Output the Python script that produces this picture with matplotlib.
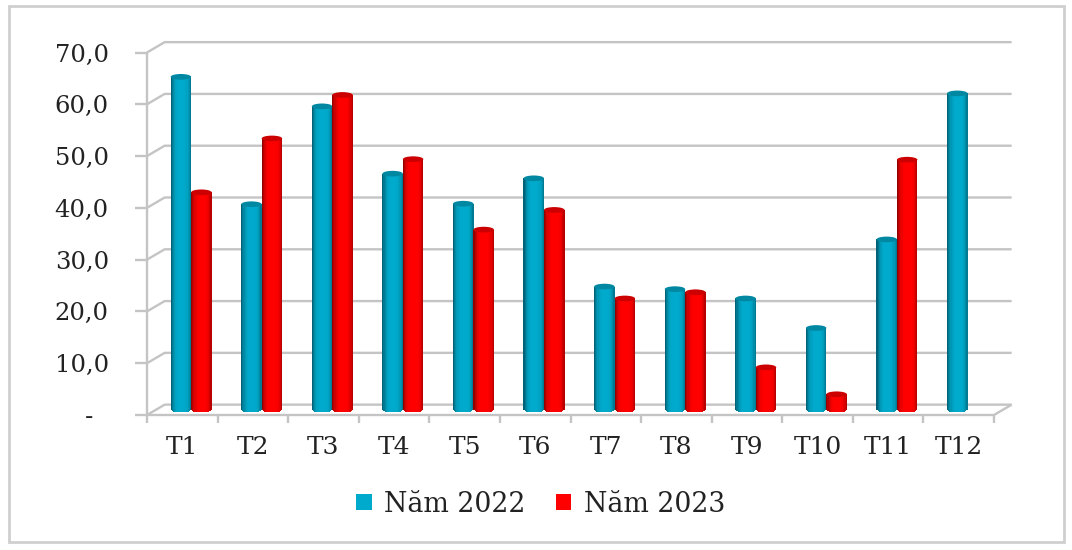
import numpy as np
import matplotlib
matplotlib.use("Agg")
import matplotlib.pyplot as plt
from matplotlib.patches import Ellipse, Patch, Rectangle

# Data
months = ["T1", "T2", "T3", "T4", "T5", "T6", "T7", "T8", "T9", "T10", "T11", "T12"]
nam_2022 = [64.6, 40.0, 58.9, 45.9, 40.1, 45.0, 24.1, 23.6, 21.8, 16.1, 33.2, 61.4]
nam_2023 = [42.3, 52.7, 61.1, 48.7, 35.1, 38.9, 21.8, 23.0, 8.5, 3.3, 48.6, np.nan]
y_ticks = [0, 10, 20, 30, 40, 50, 60, 70]
y_labels = ["-  ", "10,0", "20,0", "30,0", "40,0", "50,0", "60,0", "70,0"]

W, H = 1072, 550
font = "DejaVu Serif"
grid_color = "#c4c4c4"
blue = "#00aacc"
red = "#ff0000"

# fake 3D depth of the chart box, in data units
depth_x = 0.25
depth_y = 2.0
bar_w = 0.29
pair_shift = 0.125
floor_y = 1.05
top_shift = 0.7
cap_h = 0.55


def shade(hex_color, amount):
    rgb = np.array(matplotlib.colors.to_rgb(hex_color))
    return tuple(rgb * amount)


def cylinder(ax, x, value, color, z):
    # vertical strips give the round shading, the lower end follows the ellipse
    n = 18
    edges = np.linspace(x, x + bar_w, n + 1)
    top = value + top_shift
    for i in range(n):
        mid = (edges[i] + edges[i + 1]) / 2
        t = (mid - x) / bar_w * 2 - 1
        if t < 0:
            amount = 1 - 0.5 * abs(t) ** 3
        else:
            amount = 1 - 0.35 * t ** 4
        low = floor_y - cap_h * np.sqrt(1 - t ** 2)
        ax.bar(mid, top - low, width=edges[1] - edges[0] + 0.002, bottom=low,
               color=shade(color, amount), linewidth=0, zorder=z)
    ax.add_patch(Ellipse((x + bar_w / 2, top), bar_w, cap_h * 2,
                         facecolor=shade(color, 0.8), edgecolor="none", zorder=z + 0.1))


fig = plt.figure(figsize=(W / 100, H / 100), dpi=100, facecolor="white")
fig.add_artist(Rectangle((8.5 / W, 1 - 541.5 / H), (1064 - 8.5) / W, (541.5 - 5.5) / H,
                         transform=fig.transFigure, fill=False, edgecolor="#cfcfcf", linewidth=2))

ax = fig.add_axes([147 / W, 1 - 415 / H, (994 - 147) / W, (415 - 52.5) / H])
ax.set_xlim(0, len(months))
ax.set_ylim(y_ticks[0], y_ticks[-1])
ax.patch.set_alpha(0)
for s in ax.spines.values():
    s.set_visible(False)

# walls and gridlines
line = dict(color=grid_color, linewidth=1.7, clip_on=False, zorder=1, solid_capstyle="butt")
for y in y_ticks:
    ax.plot([0, depth_x, len(months) + depth_x], [y, y + depth_y, y + depth_y], **line)
ax.plot([0, 0], [y_ticks[0], y_ticks[-1]], **line)
ax.plot([0, len(months), len(months) + depth_x], [0, 0, depth_y], **line)

ax.set_xticks(range(len(months) + 1))
ax.set_xticklabels([""] * (len(months) + 1))
ax.set_yticks(y_ticks)
ax.set_yticklabels(y_labels, fontsize=17.5, family=font, color="#222222")
ax.tick_params(axis="y", length=8.5, width=1.7, color=grid_color, pad=19)
ax.tick_params(axis="x", length=5.5, width=1.7, color=grid_color)
for i, m in enumerate(months):
    ax.annotate(m, (i + 0.5, 0), xytext=(0, -23.5), textcoords="offset points", ha="center", va="center",
                fontsize=18, family=font, color="#222222", annotation_clip=False)

for i in range(len(months)):
    center = i + 0.5 + pair_shift
    cylinder(ax, center - bar_w, nam_2022[i], blue, 3)
    if not np.isnan(nam_2023[i]):
        cylinder(ax, center, nam_2023[i], red, 4)

handles = [Patch(facecolor=blue, label="Năm 2022"), Patch(facecolor=red, label="Năm 2023")]
fig.legend(handles=handles, loc="center", bbox_to_anchor=(540.5 / W, 1 - 504 / H), ncol=2, frameon=False,
           prop={"family": font, "size": 19.3}, handlelength=0.58, handleheight=0.58,
           handletextpad=0.45, columnspacing=1.15, labelcolor="#222222")

fig.savefig("out.png", dpi=100)
